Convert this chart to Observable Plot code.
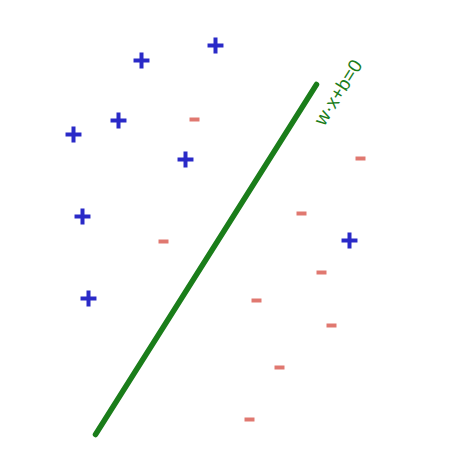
<!DOCTYPE html>
<html>
<head>
<meta charset="utf-8">
<script src="https://cdn.jsdelivr.net/npm/d3@7"></script>
<script src="https://cdn.jsdelivr.net/npm/@observablehq/plot@0.6"></script>
<style>
  html, body { margin: 0; padding: 0; background: #fff; }
</style>
</head>
<body>
<div id="chart"></div>
<script>
// Positive class (+)
const posX = [215, 141, 73, 118, 185, 82, 349, 88];
const posY = [45, 60, 134, 120, 159, 216, 240, 298];
// Negative class (−)
const negX = [194, 360, 301, 163, 321, 256, 331, 279, 249];
const negY = [119, 158, 213, 241, 272, 300, 325, 367, 419];
// Separating hyperplane endpoints
const lineX = [95, 316];
const lineY = [434, 84];
const labelText = "w·x+b=0";
const labelX = [338];
const labelY = [92];

const pos = posX.map((x, i) => ({x, y: posY[i]}));
const neg = negX.map((x, i) => ({x, y: negY[i]}));
const hyper = lineX.map((x, i) => ({x, y: lineY[i]}));
const label = [{x: labelX[0], y: labelY[0], t: labelText}];

const dash = {
  draw(ctx, size) {
    const w = 5, h = 2;
    ctx.moveTo(-w, -h);
    ctx.lineTo(w, -h);
    ctx.lineTo(w, h);
    ctx.lineTo(-w, h);
    ctx.closePath();
  }
};

const chart = Plot.plot({
  width: 454,
  height: 461,
  margin: 0,
  x: {domain: [0, 454], range: [0, 454], axis: null},
  y: {domain: [0, 461], range: [0, 461], axis: null},
  style: {background: "#fff"},
  marks: [
    Plot.line(hyper, {x: "x", y: "y", stroke: "#1a7d1a", strokeWidth: 5.5, strokeLinecap: "round"}),
    Plot.dot(pos, {x: "x", y: "y", symbol: "plus", r: 5.2, stroke: "#2a2ac8", strokeWidth: 4}),
    Plot.dot(neg, {x: "x", y: "y", symbol: dash, r: 5, fill: "#e07870", stroke: "none"}),
    Plot.text(label, {x: "x", y: "y", text: "t", rotate: -58, fill: "#1a7d1a", fontSize: 19, fontFamily: "Liberation Sans, Arial, sans-serif"})
  ]
});
document.getElementById("chart").appendChild(chart);
</script>
</body>
</html>
